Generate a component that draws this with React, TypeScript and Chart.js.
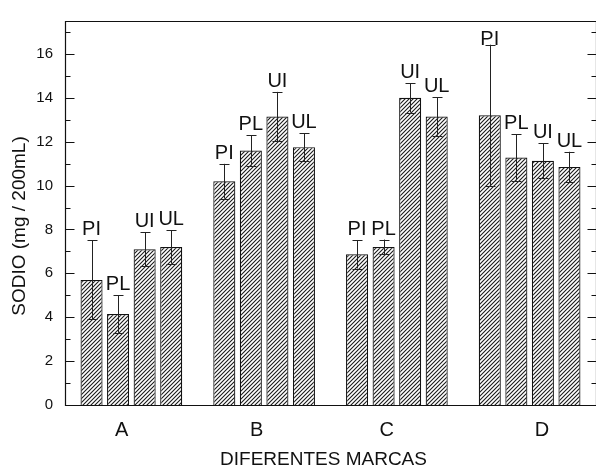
import React, { useEffect, useRef } from "react";
import { Chart, registerables } from "chart.js";

Chart.register(...registerables);

// ---- data ----
const categories = ["A", "B", "C", "D"];
const seriesNames = ["PI", "PL", "UI", "UL"];
const piValues = [5.7, 10.2, 6.87, 13.2];
const piErrors = [1.8, 0.79, 0.65, 3.22];
const plValues = [4.15, 11.6, 7.2, 11.28];
const plErrors = [0.86, 0.69, 0.34, 1.05];
const uiValues = [7.1, 13.15, 14.0, 11.13];
const uiErrors = [0.78, 1.12, 0.67, 0.8];
const ulValues = [7.2, 11.75, 13.15, 10.85];
const ulErrors = [0.76, 0.64, 0.88, 0.69];
const yMin = 0;
const yMax = 17.5;
const yStep = 2;
const yTitle = "SODIO (mg / 200mL)";
const xTitle = "DIFERENTES MARCAS";

// ---- style ----
const FONT = "'Liberation Sans', Arial, Helvetica, sans-serif";
const INK = "#111";
const labelShift = [-0.073, -0.056, -0.076, 0.093]; // category label nudges (in category units)

const allValues = [piValues, plValues, uiValues, ulValues];
const allErrors = [piErrors, plErrors, uiErrors, ulErrors];

function makeHatch(): CanvasPattern | string {
  const size = 4;
  const c = document.createElement("canvas");
  c.width = size;
  c.height = size;
  const g = c.getContext("2d");
  if (!g) return "#ccc";
  g.fillStyle = "#fff";
  g.fillRect(0, 0, size, size);
  g.strokeStyle = "#1a1a1a";
  g.lineWidth = 1.1;
  g.beginPath();
  g.moveTo(0, size);
  g.lineTo(size, 0);
  g.moveTo(-1, 1);
  g.lineTo(1, -1);
  g.moveTo(size - 1, size + 1);
  g.lineTo(size + 1, size - 1);
  g.stroke();
  return g.createPattern(c, "repeat") || "#ccc";
}

const decorPlugin = {
  id: "decor",
  afterDatasetsDraw(chart: any) {
    const ctx: CanvasRenderingContext2D = chart.ctx;
    const area = chart.chartArea;
    const yScale = chart.scales.y;
    ctx.save();

    // error bars
    ctx.strokeStyle = "#222";
    ctx.lineWidth = 1;
    chart.data.datasets.forEach((ds: any, di: number) => {
      const meta = chart.getDatasetMeta(di);
      meta.data.forEach((bar: any, i: number) => {
        const v = ds.data[i];
        const e = allErrors[di][i];
        const x = Math.round(bar.x) + 0.5;
        const yt = yScale.getPixelForValue(v + e);
        const yb = yScale.getPixelForValue(v - e);
        ctx.beginPath();
        ctx.moveTo(x, yt);
        ctx.lineTo(x, yb);
        ctx.moveTo(x - 5, Math.round(yt) + 0.5);
        ctx.lineTo(x + 5, Math.round(yt) + 0.5);
        ctx.moveTo(x - 5, Math.round(yb) + 0.5);
        ctx.lineTo(x + 5, Math.round(yb) + 0.5);
        ctx.stroke();
      });
    });

    // bar labels
    ctx.fillStyle = INK;
    ctx.font = `20px ${FONT}`;
    ctx.textAlign = "center";
    ctx.textBaseline = "alphabetic";
    chart.data.datasets.forEach((ds: any, di: number) => {
      const meta = chart.getDatasetMeta(di);
      meta.data.forEach((bar: any, i: number) => {
        const v = ds.data[i];
        const e = allErrors[di][i];
        const yt = yScale.getPixelForValue(v + e);
        const y = Math.max(yt - 5, area.top + 24);
        ctx.fillText(ds.label, bar.x, y);
      });
    });

    // frame
    ctx.strokeStyle = INK;
    ctx.lineWidth = 1.2;
    const L = Math.round(area.left) + 0.5;
    const R = Math.round(area.right) + 0.5;
    const T = Math.round(area.top) + 0.5;
    const B = Math.round(area.bottom) + 0.5;
    ctx.beginPath();
    ctx.moveTo(L, T);
    ctx.lineTo(R, T);
    ctx.lineTo(R, B);
    ctx.lineTo(L, B);
    ctx.closePath();
    ctx.stroke();

    // inward ticks left and right (major every 2, minor every 1)
    ctx.lineWidth = 1;
    ctx.beginPath();
    for (let v = yMin + 1; v <= yMax; v += 1) {
      const py = Math.round(yScale.getPixelForValue(v)) + 0.5;
      const major = v % yStep === 0;
      const len = major ? 9 : 5;
      ctx.moveTo(L, py);
      ctx.lineTo(L + len, py);
      ctx.moveTo(R, py);
      ctx.lineTo(R - len, py);
    }
    ctx.stroke();

    // axis titles
    ctx.fillStyle = INK;
    ctx.font = `19px ${FONT}`;
    ctx.textAlign = "center";
    ctx.textBaseline = "middle";
    ctx.fillText(xTitle, (area.left + area.right) / 2 - 7, 460);
    ctx.save();
    ctx.translate(20, (area.top + area.bottom) / 2 + 13);
    ctx.rotate(-Math.PI / 2);
    ctx.fillText(yTitle, 0, 0);
    ctx.restore();

    ctx.restore();
  },
};

export default function App() {
  const ref = useRef<HTMLCanvasElement>(null);

  useEffect(() => {
    if (!ref.current) return;
    const hatch = makeHatch();
    const chart = new Chart(ref.current, {
      type: "bar",
      data: {
        labels: categories,
        datasets: seriesNames.map((name, di) => ({
          label: name,
          data: allValues[di],
          backgroundColor: hatch as any,
          borderColor: INK,
          borderWidth: 1.2,
          barPercentage: 0.83,
          categoryPercentage: 0.8,
        })),
      },
      options: {
        animation: false,
        responsive: false,
        devicePixelRatio: 1,
        layout: { padding: { top: 14, right: 0, left: 0, bottom: 0 } },
        plugins: {
          legend: { display: false },
          tooltip: { enabled: false },
        },
        scales: {
          x: {
            type: "category",
            display: false,
            grid: { display: false },
          },
          xl: {
            type: "linear",
            position: "bottom",
            offset: false,
            min: 0,
            max: categories.length,
            grid: { display: false, drawTicks: false, offset: false },
            border: { display: false },
            afterBuildTicks: (s: any) => {
              s.ticks = categories.map((_, i) => ({ value: i + 0.5 + labelShift[i] }));
            },
            afterFit: (s: any) => {
              s.height = 64;
            },
            ticks: {
              autoSkip: false,
              maxRotation: 0,
              padding: 13,
              color: INK,
              font: { family: FONT, size: 20 },
              callback: (_v: any, i: number) => categories[i],
            },
          },
          y: {
            min: yMin,
            max: yMax,
            grid: { display: false, drawTicks: false },
            border: { display: false },
            afterFit: (s: any) => {
              s.width = 65;
            },
            ticks: {
              stepSize: yStep,
              includeBounds: false,
              padding: 12,
              color: INK,
              font: { family: FONT, size: 15 },
            },
          },
        } as any,
      },
      plugins: [decorPlugin],
    });
    return () => chart.destroy();
  }, []);

  return (
    <div
      style={{
        position: "absolute",
        left: 0,
        top: 0,
        width: 596,
        height: 469,
        background: "#fff",
      }}
    >
      <canvas
        ref={ref}
        width={596}
        height={469}
        style={{ display: "block", width: 596, height: 469 }}
      />
    </div>
  );
}
